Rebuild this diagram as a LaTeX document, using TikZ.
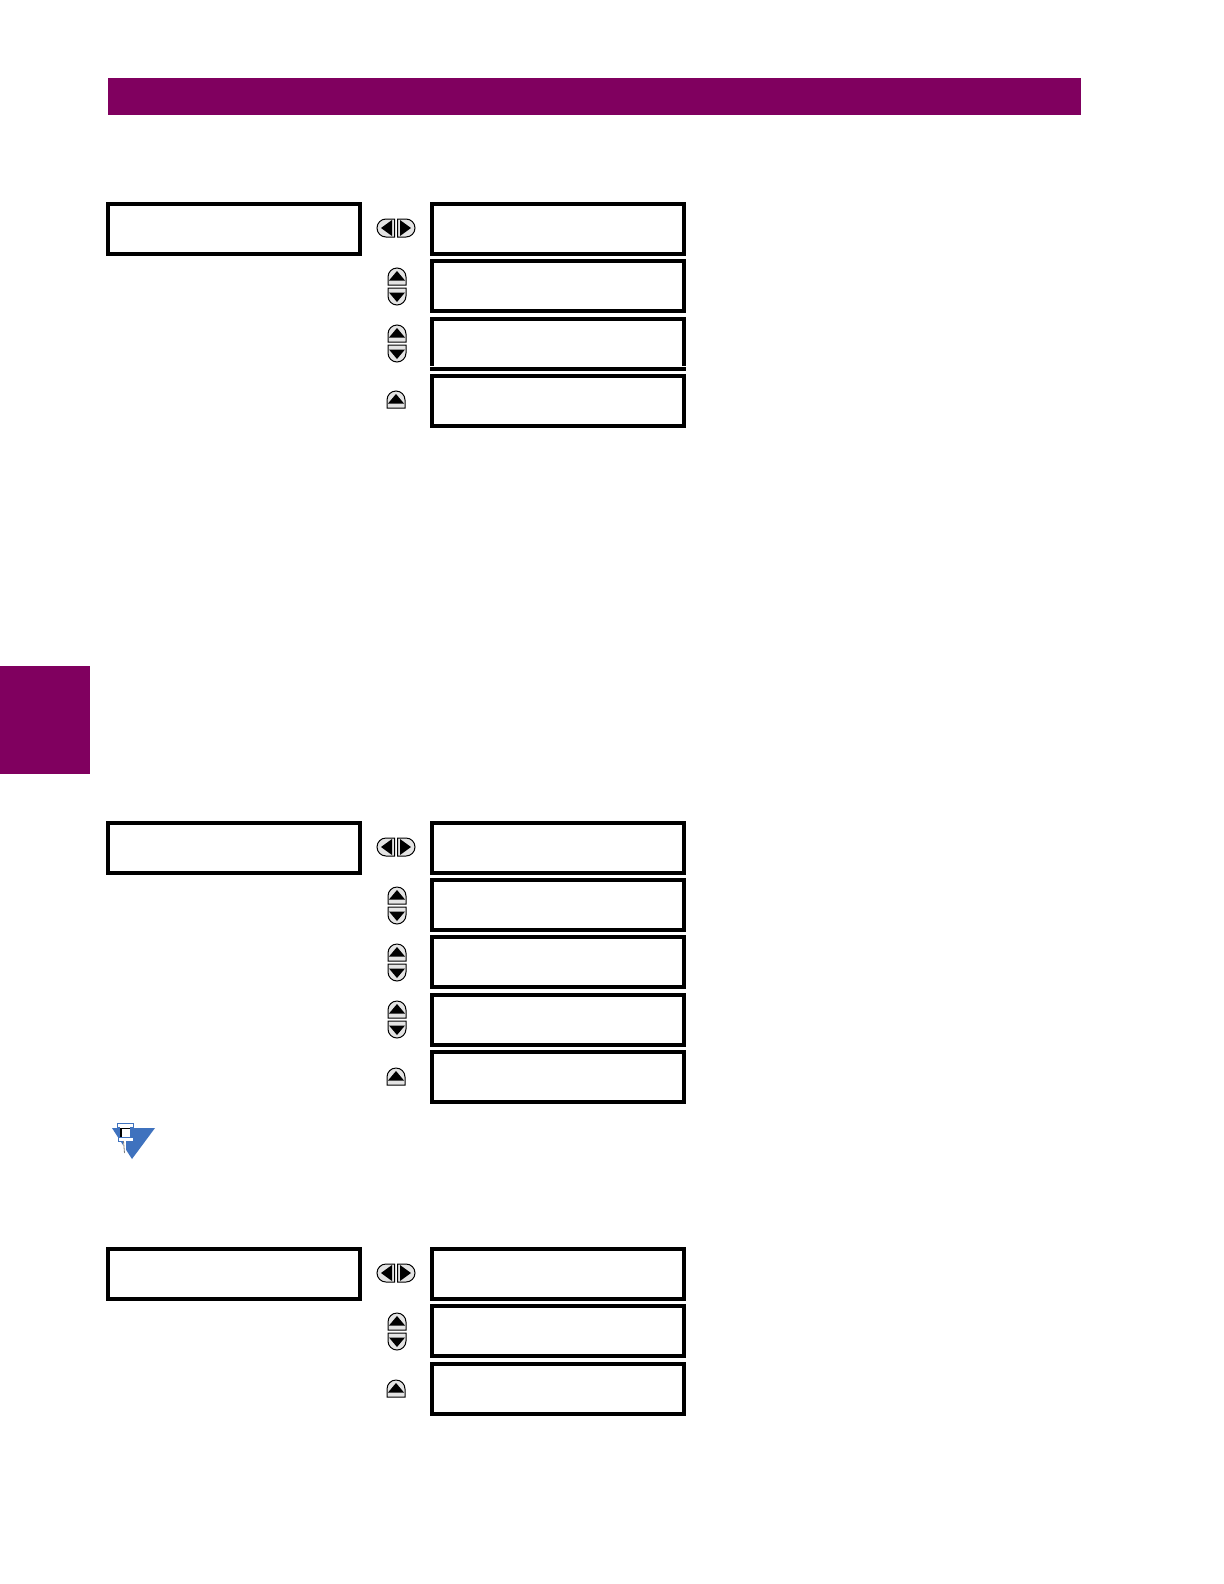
\documentclass[tikz,border=0pt]{standalone}
\definecolor{gebar}{HTML}{80005F}
\definecolor{btn}{HTML}{E4E4E4}
\definecolor{noteblue}{HTML}{3F72BE}
\tikzset{
  x=0.5bp,y=-0.5bp,
  screen/.style={draw=black,line width=2bp,fill=white,minimum width=126bp,minimum height=25bp,inner sep=0pt,outer sep=0pt,anchor=north west},
  band/.style={fill=gebar,draw=none},
  keyshape/.style={draw=black,line width=0.5bp,fill=btn},
  tri/.style={fill=black,draw=none},
  upkey/.pic={
    \path[keyshape] (-9,8) -- (-9,0) arc[start angle=180,end angle=360,radius=9] -- (9,8) -- cycle;
    \path[tri] (-8,3.5) -- (8,3.5) -- (0,-6) -- cycle;
  },
  downkey/.pic={
    \path[keyshape] (-9,-8) -- (-9,0) arc[start angle=180,end angle=0,radius=9] -- (9,-8) -- cycle;
    \path[tri] (-8,-3.5) -- (8,-3.5) -- (0,6) -- cycle;
  },
  updownkey/.pic={
    \pic at (0,-9) {upkey};
    \pic at (0,10) {downkey};
  },
  leftrightkey/.pic={
    \path[keyshape] (-1.5,-9) -- (-10,-9) arc[start angle=270,end angle=90,radius=9] -- (-1.5,9) -- cycle;
    \path[tri] (-4,-8) -- (-4,8) -- (-15,0) -- cycle;
    \path[keyshape] (1.5,-9) -- (10,-9) arc[start angle=270,end angle=450,radius=9] -- (1.5,9) -- cycle;
    \path[tri] (4,-8) -- (4,8) -- (15,0) -- cycle;
  }
}
\begin{document}
\begin{tikzpicture}
\useasboundingbox (0,0) rectangle (1224,1584);
\fill[white] (0,0) rectangle (1224,1584);
\path[band] (108,78) rectangle (1081,115);
\path[band] (0,666) rectangle (90,774);
% group 1
\node[screen] (a0) at (108,204) {};
\node[screen] (a1) at (432,204) {};
\node[screen] (a2) at (432,261) {};
\node[screen] (a3) at (432,319) {};
\node[screen] (a4) at (432,376) {};
\fill[white] (430,365.6) rectangle (686,367);
\pic at (396,228) {leftrightkey};
\pic at (397,286) {updownkey};
\pic at (397,343) {updownkey};
\pic at (396,400) {upkey};
% group 2
\node[screen] (b0) at (108,823) {};
\node[screen] (b1) at (432,823) {};
\node[screen] (b2) at (432,880) {};
\node[screen] (b3) at (432,937) {};
\node[screen] (b4) at (432,995) {};
\node[screen] (b5) at (432,1052) {};
\pic at (396,847) {leftrightkey};
\pic at (397,905) {updownkey};
\pic at (397,962) {updownkey};
\pic at (397,1019) {updownkey};
\pic at (396,1077) {upkey};
% group 3
\node[screen] (c0) at (108,1249) {};
\node[screen] (c1) at (432,1249) {};
\node[screen] (c2) at (432,1306) {};
\node[screen] (c3) at (432,1364) {};
\pic at (396,1273) {leftrightkey};
\pic at (397,1331) {updownkey};
\pic at (396,1389) {upkey};
% note icon
\fill[noteblue] (112,1128) -- (155,1128) -- (132,1159) -- cycle;
\fill[white] (118,1123) rectangle (133,1127);
\draw[noteblue,line width=0.4bp] (117,1123) rectangle (133,1127);
\fill[white] (120,1127) rectangle (130,1137);
\fill[black] (120,1128) rectangle (122,1137);
\fill[black] (120,1128) rectangle (130,1129);
\fill[white] (118,1137) rectangle (133,1141);
\draw[noteblue,line width=0.4bp] (118,1137) rectangle (133,1141);
\fill[white] (123,1141) rectangle (126,1153);
\draw[gray,line width=0.4bp] (123.5,1141) -- (124.5,1153);
\end{tikzpicture}
\end{document}
